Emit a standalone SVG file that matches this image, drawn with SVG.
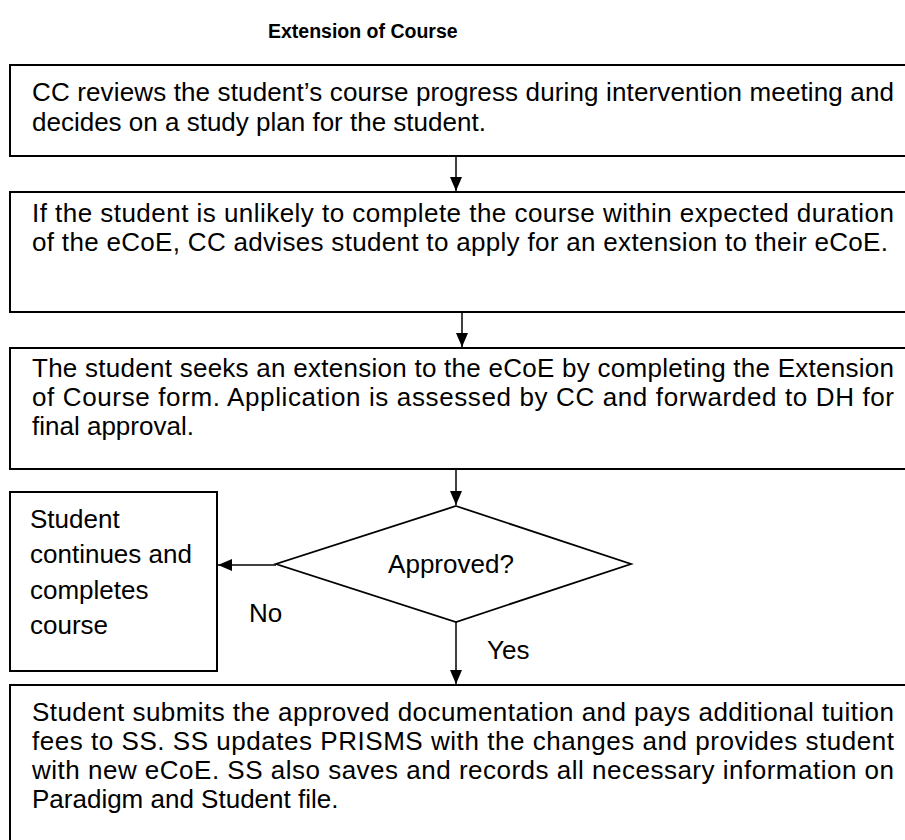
<svg xmlns="http://www.w3.org/2000/svg" width="905" height="840" viewBox="0 0 905 840">
<style>
text{font-family:"Liberation Sans",Arial,sans-serif;font-size:26px;fill:#000}
.title{font-weight:bold;font-size:19.5px}
.box{fill:#fff;stroke:#000;stroke-width:2}
.dia{fill:#fff;stroke:#000;stroke-width:1.8}
.conn{stroke:#000;stroke-width:1.5;fill:none}
</style>
<defs>
<marker id="ah" viewBox="0 0 14 12" refX="14" refY="6" markerWidth="14" markerHeight="12" markerUnits="userSpaceOnUse" orient="auto">
<path d="M0,0 L14,6 L0,12 z" fill="#000"/>
</marker>
</defs>
<rect width="905" height="840" fill="#fff"/>
<text class="title" x="268" y="38">Extension of Course</text>
<g id="n1">
<rect class="box" x="10" y="65" width="910" height="91"/>
<text x="32" y="101" textLength="862" lengthAdjust="spacing">CC reviews the student’s course progress during intervention meeting and</text>
<text x="32" y="131">decides on a study plan for the student.</text>
</g>
<g id="n2">
<rect class="box" x="10" y="192" width="910" height="120"/>
<text x="32" y="222" textLength="862" lengthAdjust="spacing">If the student is unlikely to complete the course within expected duration</text>
<text x="32" y="251" textLength="856" lengthAdjust="spacing">of the eCoE, CC advises student to apply for an extension to their eCoE.</text>
</g>
<g id="n3">
<rect class="box" x="10" y="348" width="910" height="121"/>
<text x="32" y="377" textLength="862" lengthAdjust="spacing">The student seeks an extension to the eCoE by completing the Extension</text>
<text x="32" y="406" textLength="862" lengthAdjust="spacing">of Course form. Application is assessed by CC and forwarded to DH for</text>
<text x="32" y="435">final approval.</text>
</g>
<g id="n4">
<polygon class="dia" points="456,506 631,564 456,622 276,564"/>
<text x="451" y="573" text-anchor="middle">Approved?</text>
</g>
<g id="n5">
<rect class="box" x="10" y="492" width="207" height="179"/>
<text x="30" y="528">Student</text>
<text x="30" y="563">continues and</text>
<text x="30" y="599">completes</text>
<text x="30" y="634">course</text>
</g>
<g id="n6">
<rect class="box" x="10" y="685" width="910" height="170"/>
<text x="32" y="721" textLength="862" lengthAdjust="spacing">Student submits the approved documentation and pays additional tuition</text>
<text x="32" y="750" textLength="862" lengthAdjust="spacing">fees to SS. SS updates PRISMS with the changes and provides student</text>
<text x="32" y="779" textLength="862" lengthAdjust="spacing">with new eCoE. SS also saves and records all necessary information on</text>
<text x="32" y="808">Paradigm and Student file.</text>
</g>
<g id="connectors">
<line class="conn" x1="456" y1="157" x2="456" y2="191" marker-end="url(#ah)"/>
<line class="conn" x1="462" y1="313" x2="462" y2="347" marker-end="url(#ah)"/>
<line class="conn" x1="456" y1="470" x2="456" y2="505" marker-end="url(#ah)"/>
<line class="conn" x1="276" y1="565" x2="218" y2="565" marker-end="url(#ah)"/>
<line class="conn" x1="456" y1="622" x2="456" y2="684" marker-end="url(#ah)"/>
<text x="249" y="622">No</text>
<text x="487" y="659">Yes</text>
</g>
</svg>
